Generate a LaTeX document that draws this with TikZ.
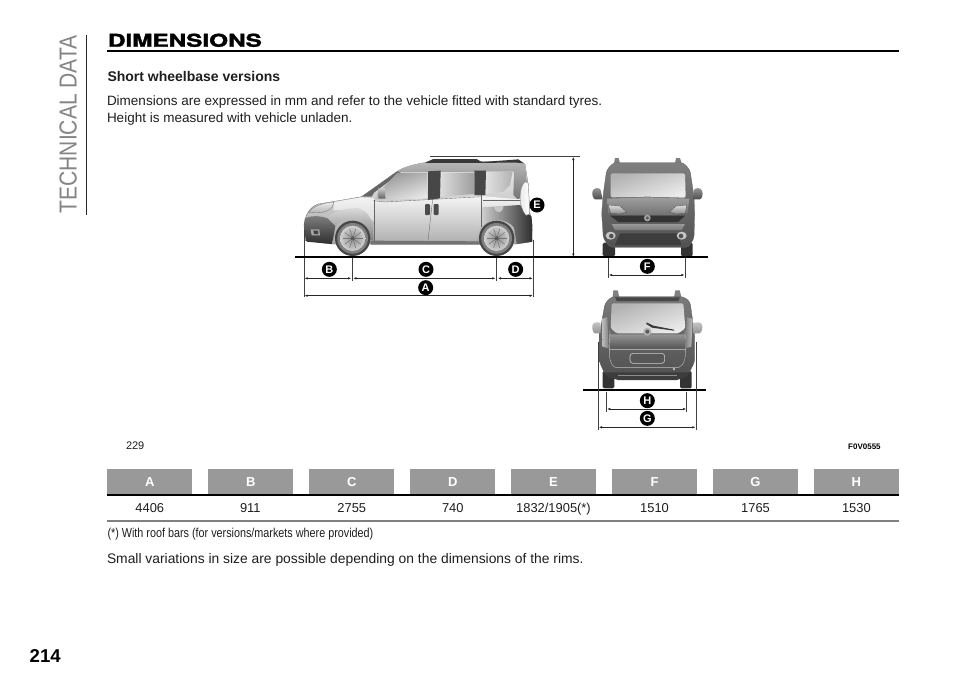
\documentclass[tikz,border=0pt]{standalone}
\usepackage{fontspec}
\setmainfont{Liberation Sans}
\newfontfamily\headfont[BoldFeatures={FakeBold=1.6}]{TeX Gyre Heros}
\usetikzlibrary{arrows.meta}
\definecolor{inktext}{HTML}{1E1E1E}
\definecolor{headgray}{HTML}{999999}
\tikzset{
  txt/.style={anchor=base west,inner sep=0,outer sep=0,text=inktext},
  valtxt/.style={anchor=base,inner sep=0,outer sep=0,text=inktext,font=\fontsize{12.9}{14}\selectfont},
  headbox/.style={fill=headgray,minimum width=85pt,minimum height=25.5pt,inner sep=0,outer sep=0,text=white,font=\fontsize{13}{15}\selectfont\bfseries},
  dimtag/.style={circle,fill=black,text=white,inner sep=0,minimum size=15pt,font=\fontsize{11}{11}\selectfont\bfseries},
  dimline/.style={line width=0.45pt,draw=black!85,{Latex[length=3pt,width=2.4pt]}-{Latex[length=3pt,width=2.4pt]}},
  extline/.style={line width=0.4pt,draw=black!75},
  groundline/.style={line width=2pt,draw=black,line cap=butt},
  zoomA/.style={shift={(290,150)},x=0.33333pt,y=-0.33333pt},
  zoomB/.style={shift={(570,150)},x=0.33333pt,y=-0.33333pt},
  zoomC/.style={shift={(570,285)},x=0.33333pt,y=-0.33333pt},
  seam/.style={draw=black!60,line width=0.35pt},
  rimspoke/.style={draw=black!55,line width=0.5pt},
}
\newcommand{\sidewheel}[2]{%
  \fill[black!72] (#1,#2) circle[radius=53];
  \fill[black!50] (#1,#2) circle[radius=46];
  \shade[inner color=black!45,outer color=black!18] (#1,#2) circle[radius=38];
  \foreach \a in {0,36,...,324}{\draw[rimspoke] (#1,#2) -- ++(\a:30);}
  \fill[black!65] (#1,#2) circle[radius=6];
}
\begin{document}
\begin{tikzpicture}[x=1pt,y=-1pt]
\fill[white] (0,0) rectangle (960,678);
\useasboundingbox (0,0) rectangle (960,678);

% --- sidebar
\draw[line width=1pt,black!85] (86.3,35) -- (86.3,215);
\node[rotate=90,anchor=base west,inner sep=0,text=black!48] (sidetitle) at (76.5,213.5)
  {\fontsize{24.6}{26}\selectfont\scalebox{0.855}[1]{TECHNICAL DATA}};
\node[anchor=base west,inner sep=0,text=black] (pagenum) at (29.5,662) {\fontsize{18.6}{22}\selectfont\bfseries 214};

% --- heading
\node[txt,text=black] (head) at (108,46.7) {\headfont\fontsize{17.6}{18}\selectfont\bfseries\scalebox{1.38}[1]{DIMENSIONS}};
\draw[line width=2pt,black] (107,50.8) -- (899,50.8);
\node[txt] (sub) at (107.5,81.7) {\fontsize{14}{16}\selectfont\bfseries Short wheelbase versions};
\node[txt] (p1) at (107,105) {\fontsize{13.5}{16}\selectfont Dimensions are expressed in mm and refer to the vehicle fitted with standard tyres.};
\node[txt] (p2) at (107,122.3) {\fontsize{13.5}{16}\selectfont Height is measured with vehicle unladen.};

% --- SIDE VIEW
\begin{scope}[zoomA]
  % body silhouette
  \shade[top color=black!6,bottom color=black!35,draw=black!60,line width=0.3pt]
    (45,272) -- (42,225) .. controls (45,195) and (60,170) .. (85,162)
    -- (135,154) -- (215,140) -- (320,65) .. controls (345,48) and (385,40) .. (420,36)
    -- (680,34) -- (705,42) -- (714,100) -- (720,190) -- (727,225) -- (725,275)
    -- (680,282) -- (240,282) -- (125,282) -- cycle;
  % roof band
  \shade[top color=black!28,bottom color=black!55] (322,66) .. controls (345,48) and (385,40) .. (420,36)
    -- (680,34) -- (705,42) -- (712,110) -- (685,150) -- (670,135) -- (672,65) -- cycle;
  % hood and wing, light
  \shade[top color=black!5,bottom color=black!14] (132,156) -- (215,142) -- (252,145) -- (252,215) -- (205,175) -- (130,182) -- cycle;
  % door panels, light with darker foot
  \shade[top color=black!4,bottom color=black!30] (252,150) -- (285,155) -- (575,138) -- (690,148) -- (690,172) -- (578,172) -- (572,232) -- (560,272) -- (252,272) -- cycle;
  % roof rails
  \fill[black!78] (405,38) -- (430,27) -- (560,27) -- (575,36) -- (660,30) -- (685,28) -- (702,40) -- (680,38) -- (420,39) -- cycle;
  % windscreen sliver and pillars
  \fill[black!60] (215,140) -- (322,64) -- (332,68) -- (252,128) -- (245,140) -- cycle;
  \fill[black!72] (414,64) -- (452,62) -- (450,145) -- (414,150) -- cycle;
  \fill[black!72] (553,62) -- (588,62) -- (586,135) -- (553,135) -- cycle;
  % windows
  \shade[left color=black!42,right color=black!10,shading angle=20] (322,68) -- (412,68) -- (412,145) -- (285,150) -- (255,150) -- (262,132) -- cycle;
  \shade[left color=black!14,right color=black!38] (455,68) -- (552,68) -- (552,132) -- (452,140) -- cycle;
  \shade[left color=black!12,right color=black!30] (588,65) -- (668,65) -- (660,105) -- (640,125) -- (588,132) -- cycle;
  % mirror
  \shade[top color=black!20,bottom color=black!62] (264,116) -- (285,114) -- (286,146) -- (266,146) -- cycle;
  % rear dark arch and bumper
  \shade[left color=black!18,right color=black!82] (578,172) -- (690,165) -- (725,200) -- (727,275) -- (680,282) -- (672,232) .. controls (650,205) and (600,200) .. (572,232) -- cycle;
  % tail light
  \shade[left color=black!10,right color=white,draw=black!50,line width=0.3pt] (705,95) .. controls (685,115) and (685,170) .. (708,196) -- (719,192) -- (715,100) -- cycle;
  \fill[black!22] (612,170) .. controls (618,195) and (640,190) .. (640,168) -- cycle;
  % front wing arch
  \shade[top color=black!14,bottom color=black!50] (110,205) .. controls (120,185) and (170,172) .. (205,175) .. controls (240,185) and (250,215) .. (250,270) -- (240,270) .. controls (235,225) and (195,205) .. (165,210) .. controls (145,215) and (135,225) .. (130,240) -- cycle;
  % headlight + bumper
  \shade[top color=black!8,bottom color=black!30,draw=black!55,line width=0.3pt] (55,187) .. controls (70,168) and (100,158) .. (132,156) -- (126,172) .. controls (112,188) and (88,190) .. (55,187) -- cycle;
  \shade[top color=black!50,bottom color=black!82] (45,205) .. controls (65,195) and (95,198) .. (112,205) -- (136,228) -- (130,262) -- (125,282) -- (50,275) -- (42,245) -- cycle;
  \fill[black!35] (62,238) -- (88,238) -- (90,256) -- (65,256) -- cycle;
  \fill[black!75] (70,242) -- (84,242) -- (85,252) -- (72,252) -- cycle;
  % door seams, handles
  \draw[seam] (253,150) -- (253,272);
  \draw[seam] (428,148) -- (414,272);
  \draw[seam] (575,135) -- (575,232);
  \draw[seam] (250,152) -- (285,156) -- (575,140);
  \draw[seam] (578,150) -- (690,150);
  \fill[black!70,rounded corners=1pt] (405,162) rectangle (420,195);
  \fill[black!70,rounded corners=1pt] (431,162) rectangle (446,195);
  \fill[black!55] (242,272) -- (572,274) -- (572,284) -- (242,284) -- cycle;
  % wheels
  \sidewheel{188}{265}
  \sidewheel{620}{265}
  % dimensions
  \coordinate (aL) at (42,240); \coordinate (aLb) at (42,440);
  \coordinate (bR) at (187,320); \coordinate (bRb) at (187,392);
  \coordinate (cR) at (620,320); \coordinate (cRb) at (620,392);
  \coordinate (dR) at (730,270); \coordinate (dRb) at (730,440);
  \coordinate (eTop) at (420,20); \coordinate (eTopR) at (870,20);
  \draw[extline] (aL) -- (aLb);
  \draw[extline] (bR) -- (bRb);
  \draw[extline] (cR) -- (cRb);
  \draw[extline] (dR) -- (dRb);
  \draw[extline] (eTop) -- (eTopR);
  \coordinate (b1) at (44,385); \coordinate (b2) at (183,385);
  \coordinate (c1) at (190,385); \coordinate (c2) at (616,385);
  \coordinate (d1) at (624,385); \coordinate (d2) at (728,385);
  \coordinate (a1) at (44,437); \coordinate (a2) at (728,437);
  \draw[dimline] (b1) -- (b2);
  \draw[dimline] (c1) -- (c2);
  \draw[dimline] (d1) -- (d2);
  \draw[dimline] (a1) -- (a2);
  \node[dimtag] (tagB) at (118,358) {B};
  \node[dimtag] (tagC) at (408,358) {C};
  \node[dimtag] (tagD) at (677,358) {D};
  \node[dimtag] (tagA) at (407,413) {A};
\end{scope}

% --- FRONT VIEW
\begin{scope}[zoomB]
  \fill[black!80,rounded corners=1.5pt] (98,278) rectangle (135,319);
  \fill[black!80,rounded corners=1.5pt] (333,278) rectangle (368,319);
  \fill[black!50] (135,24) -- (146,24) -- (150,40) -- (132,40) -- cycle;
  \fill[black!50] (318,24) -- (330,24) -- (335,40) -- (315,40) -- cycle;
  \shade[top color=black!50,bottom color=black!68,draw=black!60,line width=0.3pt,rounded corners=3pt] (130,38) -- (340,38) -- (360,60) -- (372,140) -- (374,190) -- (372,265) -- (355,292) -- (120,292) -- (100,265) -- (95,190) -- (100,130) -- (110,60) -- cycle;
  % mirrors
  \shade[top color=black!40,bottom color=black!70] (68,122) .. controls (72,112) and (90,112) .. (92,120) -- (98,148) -- (75,148) .. controls (68,145) and (65,132) .. (68,122) -- cycle;
  \shade[top color=black!40,bottom color=black!70] (396,122) .. controls (392,112) and (376,112) .. (372,120) -- (368,148) -- (390,148) .. controls (397,145) and (400,132) .. (396,122) -- cycle;
  % windscreen
  \shade[left color=black!30,right color=black!8,shading angle=20,rounded corners=1.5pt] (122,70) -- (345,70) -- (347,143) -- (235,140) -- (122,142) -- cycle;
  % hood
  \shade[top color=black!38,bottom color=black!55] (112,146) -- (235,142) -- (358,146) -- (352,190) -- (318,195) -- (150,195) -- (115,190) -- cycle;
  % headlights
  \shade[top color=black!14,bottom color=black!45,draw=black!70,line width=0.3pt] (115,165) -- (150,168) -- (170,186) -- (150,192) -- (122,190) -- cycle;
  \shade[top color=black!14,bottom color=black!45,draw=black!70,line width=0.3pt] (350,165) -- (318,168) -- (298,186) -- (318,192) -- (346,190) -- cycle;
  % grille
  \fill[black!80] (120,197) -- (345,197) -- (325,216) -- (145,216) -- cycle;
  \fill[black!35] (232,204) circle[radius=10];
  \fill[black!65] (232,204) circle[radius=5];
  % bumper
  \shade[top color=black!40,bottom color=black!52] (125,222) -- (345,222) -- (335,240) -- (135,240) -- cycle;
  \fill[black!76] (150,250) -- (320,250) -- (335,285) -- (135,285) -- cycle;
  \fill[black!22] (122,257) ellipse[x radius=15,y radius=12];
  \fill[black!68] (124,258) circle[radius=7];
  \fill[black!22] (335,257) ellipse[x radius=15,y radius=12];
  \fill[black!68] (333,258) circle[radius=7];
  % dimensions
  \coordinate (fL) at (115,325); \coordinate (fLb) at (115,383);
  \coordinate (fR) at (345,325); \coordinate (fRb) at (345,383);
  \coordinate (f1) at (117,375); \coordinate (f2) at (343,375);
  \coordinate (e1) at (10,21); \coordinate (e2) at (10,320);
  \draw[extline] (fL) -- (fLb);
  \draw[extline] (fR) -- (fRb);
  \draw[dimline] (f1) -- (f2);
  \draw[dimline] (e1) -- (e2);
  \node[dimtag] (tagF) at (232,349) {F};
\end{scope}
% ground line of side + front views
\node[dimtag] (tagE) at (537,205) {E};
\coordinate (g1) at (295,256.8); \coordinate (g2) at (707.5,256.8);
\draw[groundline] (g1) -- (g2);

% --- REAR VIEW
\begin{scope}[zoomC]
  \fill[black!80,rounded corners=1.5pt] (98,258) rectangle (133,310);
  \fill[black!80,rounded corners=1.5pt] (330,258) rectangle (365,310);
  \fill[black!50] (130,16) -- (143,16) -- (148,36) -- (128,36) -- cycle;
  \fill[black!50] (316,16) -- (329,16) -- (334,36) -- (312,36) -- cycle;
  \shade[top color=black!52,bottom color=black!68,draw=black!65,line width=0.3pt,rounded corners=3pt] (125,35) -- (340,35) -- (360,50) -- (374,150) -- (374,230) -- (355,268) -- (105,268) -- (88,230) -- (88,150) -- (105,55) -- cycle;
  % mirrors
  \shade[top color=black!22,bottom color=black!42] (68,118) .. controls (72,110) and (90,110) .. (92,116) -- (92,145) -- (74,145) .. controls (68,142) and (65,130) .. (68,118) -- cycle;
  \shade[top color=black!22,bottom color=black!42] (396,118) .. controls (392,110) and (374,110) .. (370,116) -- (370,145) -- (388,145) .. controls (396,142) and (399,130) .. (396,118) -- cycle;
  % rear window
  \shade[left color=black!30,right color=black!8,shading angle=20,rounded corners=1.5pt] (125,55) -- (340,55) -- (346,130) -- (325,145) -- (140,145) -- (122,130) -- cycle;
  % roof spoiler
  \fill[black!72] (135,37) -- (330,37) -- (325,48) -- (140,48) -- cycle;
  % tailgate
  \shade[top color=black!42,bottom color=black!66] (118,148) -- (348,148) -- (345,190) -- (120,190) -- cycle;
  \draw[black!25,line width=0.4pt] (120,135) -- (118,190) .. controls (118,215) and (118,240) .. (138,248) -- (325,248) .. controls (345,240) and (347,215) .. (347,190) -- (345,135);
  \draw[black!35,line width=0.4pt] (118,193) -- (347,193);
  % tail lights
  \shade[left color=black!25,right color=black!50] (96,102) -- (112,96) -- (116,190) -- (98,185) -- cycle;
  \shade[left color=black!50,right color=black!25] (368,102) -- (350,96) -- (346,190) -- (364,185) -- cycle;
  % plate recess
  \draw[black!20,fill=black!66,line width=0.6pt,rounded corners=3pt] (180,205) rectangle (284,235);
  % logo + wiper
  \fill[black!30] (232,140) circle[radius=12];
  \fill[black!65] (232,140) circle[radius=6];
  \fill[black!78] (230,112) -- (250,122) -- (312,134) -- (312,137) -- (246,128) -- (229,117) -- cycle;
  % bumper
  \fill[black!76] (105,262) -- (358,262) -- (350,276) -- (320,285) -- (145,285) -- (112,276) -- cycle;
  \fill[black!45] (145,270) -- (320,270) -- (320,274) -- (145,274) -- cycle;
  \fill[black!25] (312,252) circle[radius=4];
  % ground
  \coordinate (r1) at (38,314); \coordinate (r2) at (409,314);
  \draw[groundline] (r1) -- (r2);
  % dimensions
  \coordinate (hL) at (110,320); \coordinate (hLb) at (110,380);
  \coordinate (hR) at (350,320); \coordinate (hRb) at (350,380);
  \coordinate (gL) at (85,170); \coordinate (gLb) at (85,434);
  \coordinate (gR) at (378,170); \coordinate (gRb) at (378,434);
  \coordinate (h1) at (112,372); \coordinate (h2) at (348,372);
  \coordinate (gg1) at (87,427); \coordinate (gg2) at (376,427);
  \draw[extline] (hL) -- (hLb);
  \draw[extline] (hR) -- (hRb);
  \draw[extline] (gL) -- (gLb);
  \draw[extline] (gR) -- (gRb);
  \draw[dimline] (h1) -- (h2);
  \draw[dimline] (gg1) -- (gg2);
  \node[dimtag] (tagH) at (232,347) {H};
  \node[dimtag] (tagG) at (232,400) {G};
\end{scope}

% --- figure caption
\node[txt] (figno) at (126,449.5) {\fontsize{11}{12}\selectfont 229};
\node[anchor=base west,inner sep=0,text=black] (figcode) at (848,449.5) {\fontsize{8}{9}\selectfont\bfseries F0V0555};

% --- table
\foreach \lbl/\cx in {A/149.8,B/250.8,C/351.8,D/452.8,E/553.5,F/654.5,G/755.5,H/856.4}{
  \node[headbox] (hd\lbl) at (\cx,481.6) {\lbl};
}
\draw[line width=1.3pt,black] (107,495) -- (899,495);
\draw[line width=1.4pt,black!50] (107,521) -- (899,521);
\node[valtxt] (vA) at (149.8,512) {4406};
\node[valtxt] (vB) at (250.3,512) {911};
\node[valtxt] (vC) at (351.8,512) {2755};
\node[valtxt] (vD) at (452.8,512) {740};
\node[valtxt] (vE) at (553.5,512) {1832/1905(*)};
\node[valtxt] (vF) at (654.5,512) {1510};
\node[valtxt] (vG) at (755.5,512) {1765};
\node[valtxt] (vH) at (856.4,512) {1530};
\node[txt] (note) at (107.5,537.7) {\fontsize{12.9}{14}\selectfont\scalebox{0.837}[1]{(*) With roof bars (for versions/markets where provided)}};
\node[txt] (small) at (107,563) {\fontsize{13.85}{16}\selectfont Small variations in size are possible depending on the dimensions of the rims.};
\end{tikzpicture}
\end{document}
